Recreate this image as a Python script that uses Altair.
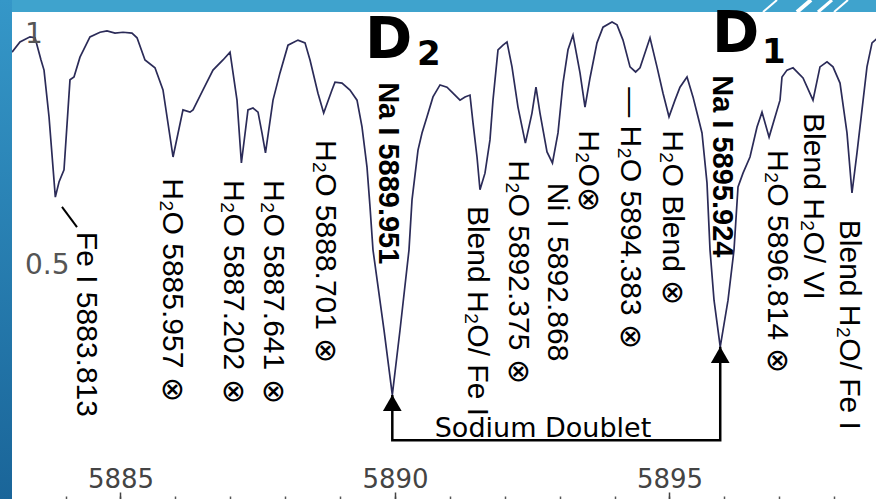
import altair as alt
import pandas as pd

# Normalised solar intensity around the sodium D doublet (wavelength in Angstrom)
wavelength = [
    5883.024, 5883.169, 5883.352, 5883.443, 5883.552, 5883.607, 5883.698, 5883.813,
    5883.880, 5883.971, 5884.080, 5884.153, 5884.262, 5884.444, 5884.627, 5884.754,
    5884.900, 5885.046, 5885.209, 5885.301, 5885.446, 5885.628, 5885.774, 5885.957,
    5886.138, 5886.266, 5886.321, 5886.503, 5886.685, 5886.867, 5886.995, 5887.122,
    5887.202, 5887.322, 5887.413, 5887.505, 5887.577, 5887.641, 5887.778, 5887.905,
    5888.051, 5888.233, 5888.361, 5888.452, 5888.597, 5888.701, 5888.852, 5888.907,
    5889.035, 5889.180, 5889.308, 5889.399, 5889.490, 5889.545, 5889.599, 5889.800,
    5889.951, 5890.091, 5890.255, 5890.310, 5890.419, 5890.492, 5890.583, 5890.692,
    5890.820, 5890.947, 5891.056, 5891.184, 5891.275, 5891.366, 5891.421, 5891.494,
    5891.548, 5891.639, 5891.730, 5891.785, 5891.876, 5891.967, 5892.040, 5892.131,
    5892.240, 5892.375, 5892.495, 5892.568, 5892.641, 5892.769, 5892.868, 5892.969,
    5893.060, 5893.151, 5893.242, 5893.370, 5893.461, 5893.552, 5893.679, 5893.789,
    5893.953, 5894.044, 5894.153, 5894.281, 5894.383, 5894.463, 5894.645, 5894.772,
    5894.882, 5894.991, 5895.100, 5895.191, 5895.319, 5895.428, 5895.519, 5895.592,
    5895.683, 5895.738, 5895.811, 5895.924, 5896.066, 5896.175, 5896.248, 5896.339,
    5896.466, 5896.594, 5896.685, 5896.814, 5897.013, 5897.049, 5897.140, 5897.250,
    5897.432, 5897.614, 5897.741, 5897.869, 5897.978, 5898.106, 5898.233, 5898.324,
    5898.415, 5898.506, 5898.597, 5898.689, 5898.798,
]
intensity = [
    0.963, 0.985, 0.996, 0.994, 0.946, 0.924, 0.823, 0.649,
    0.682, 0.708, 0.903, 0.909, 0.952, 0.996, 1.006, 1.009,
    1.004, 1.006, 1.004, 0.994, 0.946, 0.929, 0.881, 0.736,
    0.838, 0.833, 0.838, 0.881, 0.924, 0.946, 0.963, 0.859,
    0.723, 0.838, 0.842, 0.833, 0.788, 0.745, 0.859, 0.918,
    0.978, 0.989, 0.983, 0.946, 0.874, 0.831, 0.881, 0.898,
    0.896, 0.881, 0.859, 0.801, 0.714, 0.628, 0.535, 0.361,
    0.221, 0.361, 0.535, 0.643, 0.751, 0.788, 0.823, 0.866,
    0.892, 0.887, 0.874, 0.859, 0.866, 0.870, 0.810, 0.736,
    0.665, 0.701, 0.773, 0.859, 0.968, 0.978, 0.985, 0.931,
    0.844, 0.766, 0.831, 0.887, 0.831, 0.747, 0.723, 0.788,
    0.896, 0.968, 1.000, 0.918, 0.844, 0.907, 0.983, 1.017,
    1.028, 1.022, 0.989, 0.931, 0.920, 0.929, 0.994, 0.931,
    0.874, 0.823, 0.859, 0.887, 0.909, 0.866, 0.823, 0.788,
    0.680, 0.535, 0.426, 0.325, 0.426, 0.535, 0.671, 0.701,
    0.736, 0.801, 0.833, 0.779, 0.859, 0.909, 0.924, 0.929,
    0.907, 0.859, 0.931, 0.942, 0.931, 0.896, 0.788, 0.658,
    0.745, 0.838, 0.931, 0.983, 0.994,
]

# Line identifications (vertical labels: anchor wavelength, intensity at top of label)
label_text = [
    "Fe I 5883.813",
    "H\u2082O 5885.957 \u2297",
    "H\u2082O 5887.202 \u2297",
    "H\u2082O 5887.641 \u2297",
    "H\u2082O 5888.701 \u2297",
    "Blend H\u2082O/ Fe I",
    "H\u2082O 5892.375 \u2297",
    "Ni I 5892.868",
    "H\u2082O\u2297",
    "\u2014 H\u2082O 5894.383 \u2297",
    "H\u2082O Blend \u2297",
    "H\u2082O 5896.814 \u2297",
    "Blend H\u2082O/ VI",
    "Blend H\u2082O/ Fe I",
]
label_wl = [5884.372, 5885.938, 5887.049, 5887.778, 5888.725, 5891.494, 5892.240,
            5892.951, 5893.515, 5894.281, 5895.046, 5896.958, 5897.614, 5898.270]
label_top = [0.574, 0.690, 0.686, 0.686, 0.773, 0.630, 0.729,
             0.680, 0.794, 0.887, 0.794, 0.751, 0.831, 0.600]

na_text = ["Na I 5889.951", "Na I 5895.924"]
na_wl = [5889.872, 5895.956]
na_top = [0.898, 0.913]

# Pointer stroke next to the Fe I label
pointer_wl = [5883.934]
pointer_wl2 = [5884.208]
pointer_v = [0.628]
pointer_v2 = [0.584]

# Sodium D lines: wavelength and line-core intensity, and the bracket joining them
d_wl = [5889.951, 5895.924]
d_core = [0.221, 0.325]
bracket_level = 0.123
doublet_wl = [5892.696]
doublet_v = [0.130]

d_name = ["D", "D"]
d_name_wl = [5889.454, 5895.774]
d_name_v = [0.950, 0.963]
d_sub = ["2", "1"]
d_sub_wl = [5890.401, 5896.685]
d_sub_v = [0.935, 0.940]

x_minor = list(range(5884, 5899))
x_major = [5885, 5890, 5895]
y_ticks = [0.1, 0.2, 0.3, 0.4, 0.5, 0.6, 0.7, 0.8, 0.9, 1.0]
y_labelled = [1.0, 0.5]
y_label_text = ["1", "0.5"]

X_DOMAIN = [5883.0237, 5898.7614]
Y_DOMAIN = [-0.0043, 1.0498]
W, H = 864, 487

xs = alt.Scale(domain=X_DOMAIN, nice=False, zero=False)
ys = alt.Scale(domain=Y_DOMAIN, nice=False, zero=False)
one = pd.DataFrame({"k": [0]})
inward = alt.ExprRef(expr="-5")

# Slide frame: blue header band, left strip and white header slashes
band = alt.Chart(one).mark_rect(color="#3fa3cd").encode(
    x=alt.value(-12), x2=alt.value(W), y=alt.value(-12), y2=alt.value(0))
strip = alt.Chart(one).mark_rect(
    fill=alt.Gradient(gradient="linear",
                      stops=[alt.GradientStop(color="#3597c8", offset=0),
                             alt.GradientStop(color="#1a6599", offset=1)],
                      x1=0, x2=0, y1=0, y2=1)
).encode(x=alt.value(-12), x2=alt.value(0), y=alt.value(-12), y2=alt.value(H))
slashes = []
for x0, sw in [(751, 2), (785, 4), (806, 3), (822, 2)]:
    slashes.append(alt.Chart(one).mark_rule(color="white", strokeWidth=sw).encode(
        x=alt.value(x0), x2=alt.value(x0 + 14), y=alt.value(0), y2=alt.value(-12)))

spec = pd.DataFrame({"wavelength": wavelength, "intensity": intensity})
line = alt.Chart(spec).mark_line(color="#2b2b58", strokeWidth=1.7, clip=True).encode(
    x=alt.X("wavelength:Q", scale=xs,
            axis=alt.Axis(orient="top", offset=-H, values=x_minor, labels=False,
                          tickSize=3, tickWidth=1.5, tickColor="#555",
                          domain=False, grid=False, title=None)),
    y=alt.Y("intensity:Q", scale=ys,
            axis=alt.Axis(orient="left", values=y_ticks, labels=False,
                          tickSize=inward, tickWidth=1.5, tickColor="#333",
                          domainColor="#222222", domainWidth=2,
                          zindex=1, grid=False, title=None)),
)

# Numbered intensity levels, written just inside the left axis
y_numbers = alt.Chart(pd.DataFrame({"intensity": y_labelled, "t": y_label_text})).mark_text(
    font="DejaVu Sans", fontSize=28, color="#555", align="left", baseline="middle"
).encode(x=alt.value(13), y=alt.Y("intensity:Q", scale=ys, axis=None), text="t:N")

major = alt.Chart(pd.DataFrame({"wavelength": x_major})).mark_point(opacity=0).encode(
    x=alt.X("wavelength:Q", scale=xs,
            axis=alt.Axis(orient="top", offset=-H, values=x_major, format="d",
                          tickSize=7, tickWidth=1.5, tickColor="#444",
                          labelFont="DejaVu Sans", labelFontSize=26, labelColor="#444",
                          labelPadding=0, labelFlush=False, labelOverlap=False,
                          domain=False, grid=False, title=None)),
)

labels = alt.Chart(pd.DataFrame({"wl": label_wl, "top": label_top, "text": label_text})).mark_text(
    angle=90, align="left", baseline="middle", font="Liberation Sans",
    fontSize=30, color="black"
).encode(x=alt.X("wl:Q", scale=xs, axis=None), y=alt.Y("top:Q", scale=ys, axis=None),
         text="text:N")

na_labels = alt.Chart(pd.DataFrame({"wl": na_wl, "top": na_top, "text": na_text})).mark_text(
    angle=90, align="left", baseline="middle", font="Liberation Sans",
    fontWeight="bold", fontSize=29, color="black"
).encode(x=alt.X("wl:Q", scale=xs, axis=None), y=alt.Y("top:Q", scale=ys, axis=None),
         text="text:N")

pointer = alt.Chart(pd.DataFrame({"a": pointer_wl, "b": pointer_wl2,
                                  "v": pointer_v, "v2": pointer_v2})).mark_rule(
    color="black", strokeWidth=2
).encode(x=alt.X("a:Q", scale=xs, axis=None), x2="b:Q",
         y=alt.Y("v:Q", scale=ys, axis=None), y2="v2:Q")

bracket_df = pd.DataFrame({
    "wl": [d_wl[0], d_wl[0], d_wl[1], d_wl[1]],
    "v": [d_core[0], bracket_level, bracket_level, d_core[1]],
    "i": [0, 1, 2, 3],
})
bracket = alt.Chart(bracket_df).mark_line(color="black", strokeWidth=2.5, strokeJoin="miter").encode(
    x=alt.X("wl:Q", scale=xs, axis=None), y=alt.Y("v:Q", scale=ys, axis=None), order="i:Q")

heads = alt.Chart(pd.DataFrame({"wl": d_wl, "v": d_core})).mark_point(
    shape="triangle-up", filled=True, size=350, color="black", opacity=1, yOffset=8
).encode(x=alt.X("wl:Q", scale=xs, axis=None), y=alt.Y("v:Q", scale=ys, axis=None))

doublet = alt.Chart(pd.DataFrame({"wl": doublet_wl, "v": doublet_v,
                                  "t": ["Sodium Doublet"]})).mark_text(
    font="DejaVu Sans", fontSize=27, align="center", baseline="alphabetic", color="black"
).encode(x=alt.X("wl:Q", scale=xs, axis=None), y=alt.Y("v:Q", scale=ys, axis=None), text="t:N")

d_big = alt.Chart(pd.DataFrame({"wl": d_name_wl, "v": d_name_v, "t": d_name})).mark_text(
    font="DejaVu Sans", fontWeight="bold", fontSize=57, align="left",
    baseline="alphabetic", color="black"
).encode(x=alt.X("wl:Q", scale=xs, axis=None), y=alt.Y("v:Q", scale=ys, axis=None), text="t:N")

d_small = alt.Chart(pd.DataFrame({"wl": d_sub_wl, "v": d_sub_v, "t": d_sub})).mark_text(
    font="DejaVu Sans", fontWeight="bold", fontSize=34, align="left",
    baseline="alphabetic", color="black"
).encode(x=alt.X("wl:Q", scale=xs, axis=None), y=alt.Y("v:Q", scale=ys, axis=None), text="t:N")

chart = alt.layer(
    band, strip, *slashes, line, major, y_numbers, labels, na_labels, pointer,
    bracket, heads, doublet, d_big, d_small
).resolve_axis(x="independent").properties(
    width=W, height=H,
    padding={"left": 12, "top": 12, "right": 0, "bottom": 0},
    autosize=alt.AutoSizeParams(type="none"),
    background="white",
).configure_view(stroke=None)

chart.save("out.html", embed_options={"renderer": "svg", "actions": False})
